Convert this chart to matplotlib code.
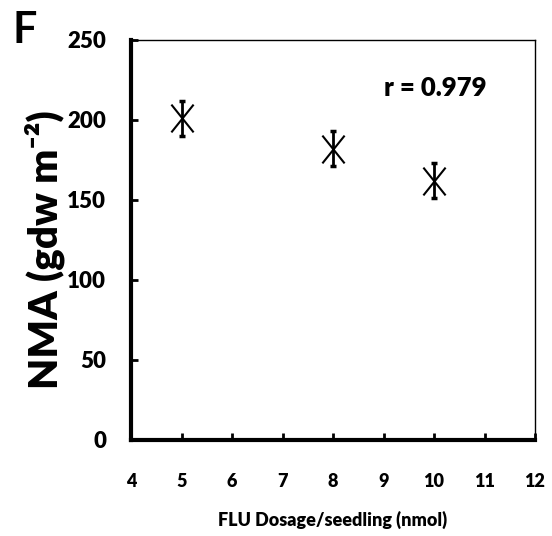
import matplotlib
matplotlib.use("Agg")
import matplotlib.pyplot as plt
from matplotlib.path import Path

fam = ["Lato", "DejaVu Sans"]
plt.rcParams['font.family'] = fam

dosage = [5, 8, 10]
nma = [201, 182, 162]
err = [11, 11, 11]
xticks = [4, 5, 6, 7, 8, 9, 10, 11, 12]
yticks = [0, 50, 100, 150, 200, 250]

xmark = Path([(-0.8, -1), (0.8, 1), (-0.8, 1), (0.8, -1)],
             [Path.MOVETO, Path.LINETO, Path.MOVETO, Path.LINETO])

W, H = 552, 536
fig = plt.figure(figsize=(W / 100, H / 100), dpi=100)
L, R, T, B = 131, 535, 40, 440
ax = fig.add_axes([L / W, 1 - B / H, (R - L) / W, (B - T) / H])
ax.errorbar(dosage, nma, yerr=err, fmt='none', ecolor='black', elinewidth=2,
            capsize=2.5, capthick=2.5, zorder=3)
ax.plot(dosage, nma, linestyle='none', marker=xmark, markersize=20,
        markeredgecolor='black', markerfacecolor='none', markeredgewidth=1.5, zorder=4)

ax.set_xlim(4, 12)
ax.set_ylim(0, 250)
ax.set_xticks(xticks)
ax.set_yticks(yticks)
ax.tick_params(axis='both', direction='in', width=2, length=5, color='black')
ax.tick_params(axis='x', labelsize=13, pad=24)
ax.tick_params(axis='y', labelsize=16, pad=18)
for lab in ax.get_xticklabels() + ax.get_yticklabels():
    lab.set_fontweight('heavy')
for s in ['left', 'bottom']:
    ax.spines[s].set_linewidth(3)
for s in ['top', 'right']:
    ax.spines[s].set_linewidth(1)

ax.set_xlabel("FLU Dosage/seedling (nmol)", fontsize=13, fontweight='heavy', labelpad=15)
fig.text(45 / W, 1 - 250 / H, "NMA (gdw m\u207b\u00b2)", fontsize=29, fontweight='heavy',
         rotation=90, ha='center', va='center')
ax.text(10.02, 220, "r = 0.979", fontsize=18.5, fontweight='heavy', ha='center', va='center')
fig.text(13 / W, 1 - 10 / H, "F", fontsize=31, fontweight='bold', ha='left', va='top')

fig.savefig("out.png", dpi=100)
